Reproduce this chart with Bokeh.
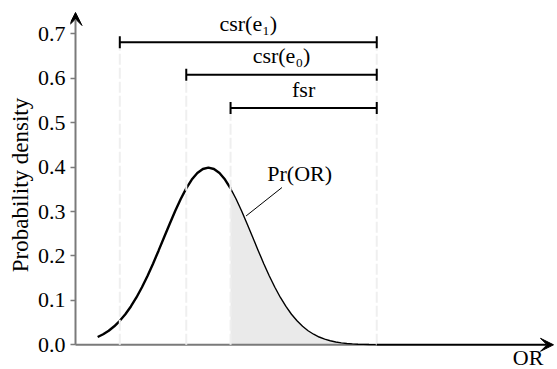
from bokeh.plotting import figure
from bokeh.models import Range1d, FixedTicker, Arrow, VeeHead, Label, NumeralTickFormatter, ColumnDataSource
from bokeh.embed import file_html
from bokeh.resources import INLINE
from bokeh.core.properties import value

# ---- data ----
or_x = [0.5, 0.625, 0.75, 0.875, 1.0, 1.125, 1.25, 1.375, 1.5, 1.625, 1.75, 1.875,
        2.0, 2.125, 2.25, 2.375, 2.5, 2.625, 2.75, 2.875, 3.0, 3.125, 3.25, 3.375,
        3.5, 3.625, 3.75, 3.875, 4.0, 4.125, 4.25, 4.375, 4.5, 4.625, 4.75, 4.875,
        5.0, 5.125, 5.25, 5.375, 5.5, 5.625, 5.75, 5.875, 6.0, 6.125, 6.25, 6.375,
        6.5, 6.625, 6.75, 6.8]
density = [0.0175, 0.0238, 0.0317, 0.0417, 0.0540, 0.0688, 0.0863, 0.1065, 0.1295, 0.1550,
           0.1826, 0.2119, 0.2420, 0.2721, 0.3011, 0.3282, 0.3521, 0.3719, 0.3867, 0.3958,
           0.3989, 0.3958, 0.3867, 0.3719, 0.3521, 0.3282, 0.3011, 0.2721, 0.2420, 0.2119,
           0.1826, 0.1550, 0.1295, 0.1065, 0.0863, 0.0688, 0.0540, 0.0417, 0.0317, 0.0238,
           0.0175, 0.0127, 0.0091, 0.0064, 0.0044, 0.0030, 0.0020, 0.0013, 0.0009, 0.0006,
           0.0004, 0.0003]
fsr_start = 3.5          # start of shaded region
or_end = 6.8             # where the tail meets the axis

range_names = ["csr(e\u2081)", "csr(e\u2080)", "fsr"]
range_start = [1.0, 2.5, 3.5]
range_end = [6.8, 6.8, 6.8]
range_level = [0.681, 0.608, 0.533]

guide_x = [1.0, 2.5, 3.5, 6.8]
guide_top = [0.681, 0.608, 0.533, 0.681]

ytick_values = [0.0, 0.1, 0.2, 0.3, 0.4, 0.5, 0.6, 0.7]

curve_label = "Pr(OR)"
curve_label_pos = (5.06, 0.386)
leader_x = [3.85, 4.66]
leader_y = [0.29, 0.354]

x_axis_label = "OR"
x_axis_label_pos = (10.56, -0.028)

x_lo, x_hi = -0.113, 10.88
y_lo, y_hi = -0.0556, 0.775
x_arrow_tip = 10.79
y_arrow_tip = 0.748

FONT = "Liberation Serif"
AXIS_GRAY = "#7a7a7a"

p = figure(width=557, height=369, output_backend="svg", toolbar_location=None,
           x_range=Range1d(x_lo, x_hi), y_range=Range1d(y_lo, y_hi),
           min_border_left=70, min_border_right=0, min_border_top=0, min_border_bottom=0)
p.outline_line_color = None
p.grid.visible = False
p.background_fill_color = "white"
p.border_fill_color = "white"

# y axis (ticks + labels); its line is drawn as an arrow at x = 0
p.yaxis.ticker = FixedTicker(ticks=ytick_values)
p.yaxis.formatter = NumeralTickFormatter(format="0.0")
p.yaxis.minor_tick_line_color = None
p.yaxis.major_tick_in = 5
p.yaxis.major_tick_out = 0
p.yaxis.major_tick_line_color = AXIS_GRAY
p.yaxis.major_tick_line_width = 1.5
p.yaxis.axis_line_color = None
p.yaxis.major_label_text_font = FONT
p.yaxis.major_label_text_font_size = "22px"
p.yaxis.major_label_text_color = "black"
p.yaxis.major_label_standoff = 5
p.yaxis.axis_label = "Probability density"
p.yaxis.axis_label_text_font = FONT
p.yaxis.axis_label_text_font_size = "23px"
p.yaxis.axis_label_text_font_style = "normal"
p.yaxis.axis_label_text_color = "black"
p.yaxis.axis_label_standoff = 2

p.xaxis.visible = False

# split curve
left_x = [x for x in or_x if x <= fsr_start]
left_y = density[:len(left_x)]
right_x = or_x[len(left_x) - 1:]
right_y = density[len(left_x) - 1:]

p.varea(x=right_x, y1=[0] * len(right_x), y2=right_y, fill_color="#eaeaea")

# axes lines
p.segment(x0=[0], y0=[0], x1=[or_end], y1=[0], line_color=AXIS_GRAY, line_width=2)
p.add_layout(Arrow(x_start=or_end, y_start=0, x_end=x_arrow_tip, y_end=0,
                   line_color="black", line_width=2,
                   end=VeeHead(size=13, fill_color="black", line_color="black")))
p.add_layout(Arrow(x_start=0, y_start=0, x_end=0, y_end=y_arrow_tip,
                   line_color=AXIS_GRAY, line_width=2,
                   end=VeeHead(size=13, fill_color="black", line_color="black")))

p.line(left_x, left_y, line_color="black", line_width=2.4)
p.line(right_x, right_y, line_color="black", line_width=1.4)

# dashed guides
p.segment(x0=guide_x, y0=[0] * len(guide_x), x1=guide_x, y1=guide_top,
          line_color="#efefef", line_width=2, line_dash="11 3")

# range bars
p.segment(x0=range_start, y0=range_level, x1=range_end, y1=range_level,
          line_color="black", line_width=2)
cap_h = 0.0135
p.segment(x0=range_start + range_end, y0=[v - cap_h for v in range_level] * 2,
          x1=range_start + range_end, y1=[v + cap_h for v in range_level] * 2,
          line_color="black", line_width=2)
src = ColumnDataSource(dict(x=[(a + b) / 2 for a, b in zip(range_start, range_end)],
                            y=range_level, t=range_names))
p.text(x="x", y="y", text="t", source=src, text_align="center", text_baseline="alphabetic",
       y_offset=-19, text_font=value(FONT), text_font_size="22px", text_color="black")

# curve label with leader
p.line(leader_x, leader_y, line_color="black", line_width=1)
p.add_layout(Label(x=curve_label_pos[0], y=curve_label_pos[1], text=curve_label,
                   text_align="center", text_baseline="alphabetic",
                   text_font=FONT, text_font_size="22px", text_color="black"))

p.add_layout(Label(x=x_axis_label_pos[0], y=x_axis_label_pos[1], text=x_axis_label,
                   text_align="right", text_baseline="alphabetic",
                   text_font=FONT, text_font_size="22px", text_color="black"))

open("out.html", "w").write(file_html(p, INLINE))
